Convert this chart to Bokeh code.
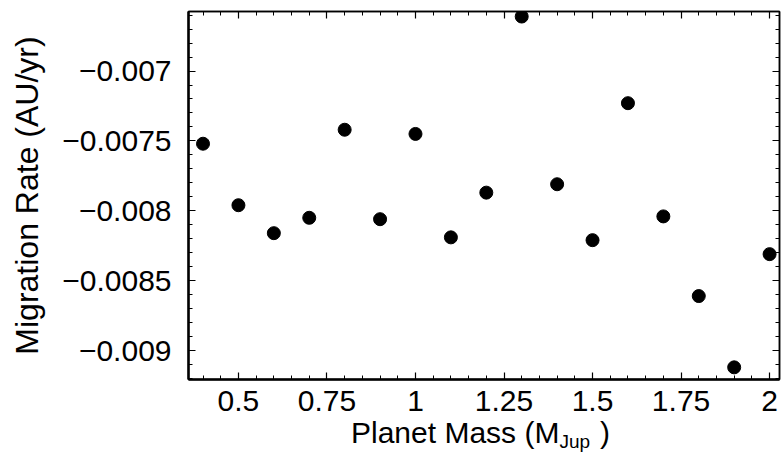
from bokeh.plotting import figure
from bokeh.models import Range1d, FixedTicker, LinearAxis, ColumnDataSource, Div
from bokeh.layouts import column
from bokeh.embed import file_html
from bokeh.resources import INLINE
import numpy as np

# ---- data ----
planet_mass = [0.4, 0.5, 0.6, 0.7, 0.8, 0.9, 1.0, 1.1, 1.2, 1.3, 1.4, 1.5, 1.6, 1.7, 1.8, 1.9, 2.0]
migration_rate = [-0.00752, -0.00796, -0.00816, -0.00805, -0.00742, -0.00806, -0.00745, -0.00819,
                  -0.00787, -0.00661, -0.00781, -0.00821, -0.00723, -0.00804, -0.00861, -0.00912, -0.00831]

x_ticks = [0.5, 0.75, 1.0, 1.25, 1.5, 1.75, 2.0]
x_tick_labels = ["0.5", "0.75", "1", "1.25", "1.5", "1.75", "2"]
y_ticks = [-0.009, -0.0085, -0.008, -0.0075, -0.007]
y_tick_labels = ["\u22120.009", "\u22120.0085", "\u22120.008", "\u22120.0075", "\u22120.007"]

x_title_main = "Planet Mass (M"
x_title_sub = "Jup"
x_title_end = ")"
y_title = "Migration Rate (AU/yr)"

FONT = "Liberation Sans"

x0, x1 = 0.359, 2.028
y0, y1 = -0.009207, -0.006574

p = figure(width=781, height=424, output_backend="svg", toolbar_location=None,
           x_range=Range1d(x0, x1), y_range=Range1d(y0, y1),
           min_border_left=188, min_border_right=2, min_border_top=11, min_border_bottom=45,
           x_axis_location=None, y_axis_location=None, margin=0)
p.grid.visible = False
p.outline_line_color = "black"
p.outline_line_width = 1.5
p.background_fill_color = "white"
p.border_fill_color = "white"

x_minor = list(np.round(np.arange(0.35, 2.05, 0.05), 3))
y_minor = list(np.round(np.arange(-0.0093, -0.0065, 0.0001), 5))
xt = FixedTicker(ticks=x_ticks, minor_ticks=x_minor)
yt = FixedTicker(ticks=y_ticks, minor_ticks=y_minor)


def style(ax, with_labels, width):
    ax.axis_line_color = "black"
    ax.axis_line_width = width
    ax.major_tick_in = 7
    ax.major_tick_out = 0
    ax.minor_tick_in = 4
    ax.minor_tick_out = 0
    ax.major_tick_line_color = "black"
    ax.minor_tick_line_color = "black"
    ax.major_tick_line_width = 1.2
    ax.minor_tick_line_width = 1
    if not with_labels:
        ax.major_label_text_font_size = "1px"
        ax.major_label_text_color = None
        ax.major_label_standoff = 0
    else:
        ax.major_label_text_font = FONT
        ax.major_label_text_font_size = "30px"
        ax.major_label_text_color = "black"


xb = LinearAxis(ticker=xt, major_label_overrides=dict(zip(x_ticks, x_tick_labels)))
style(xb, True, 2.5)
xb.major_label_standoff = 11
p.add_layout(xb, "below")

yl = LinearAxis(ticker=yt, major_label_overrides=dict(zip(y_ticks, y_tick_labels)))
style(yl, True, 2.5)
yl.major_label_standoff = 17
yl.axis_label = y_title
yl.axis_label_text_font = FONT
yl.axis_label_text_font_size = "32px"
yl.axis_label_text_font_style = "normal"
yl.axis_label_text_color = "black"
yl.axis_label_standoff = 14
p.add_layout(yl, "left")

xa = LinearAxis(ticker=xt)
style(xa, False, 1.5)
p.add_layout(xa, "above")
yr = LinearAxis(ticker=yt)
style(yr, False, 1.5)
p.add_layout(yr, "right")

src = ColumnDataSource(dict(x=planet_mass, y=migration_rate))
p.scatter("x", "y", source=src, size=13, color="black")

# x-axis title with subscript (HTML text under the figure)
html = (
    f'<div style="box-sizing:border-box;width:781px;padding-left:351px;text-align:left;'
    f'white-space:nowrap;font-family:\'{FONT}\';font-size:30px;line-height:18px;color:black;">'
    f'{x_title_main}<span style="font-size:19px;vertical-align:-5px;">{x_title_sub}</span>'
    f'<span style="margin-left:10px;">{x_title_end}</span></div>'
)
div = Div(text=html, width=781, height=29, margin=0)

layout = column(p, div, spacing=0, margin=0)
open("out.html", "w").write(file_html(layout, INLINE))
